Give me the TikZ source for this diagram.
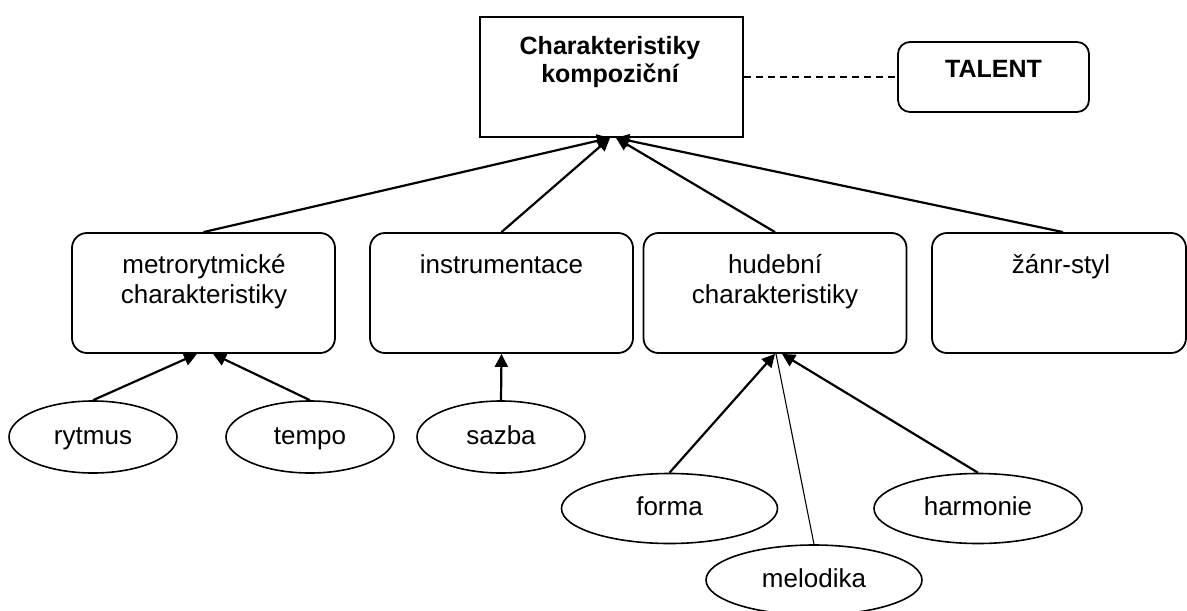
\documentclass[tikz,border=0pt]{standalone}
\usepackage{fontspec}
\setmainfont{Liberation Sans}
\usetikzlibrary{arrows.meta,shapes.geometric}
\begin{document}
\begin{tikzpicture}[x=0.5pt,y=-0.5pt,
  frame/.style={draw, line width=0.9pt, inner sep=0pt},
  headbox/.style={frame, minimum width=131.5pt, minimum height=60pt},
  catbox/.style={frame, rounded corners=7.5pt, minimum width=131.5pt, minimum height=60pt},
  talentbox/.style={frame, rounded corners=6pt, minimum width=95.5pt, minimum height=35pt},
  leaf/.style={draw, ellipse, line width=0.8pt, inner sep=0pt,
    minimum width=84pt, minimum height=36pt,
    font=\fontsize{13pt}{15pt}\selectfont, text height=10pt, text depth=3pt},
  wideleaf/.style={leaf, minimum width=108pt, minimum height=35pt},
  % multi-line labels are anchored at the baseline of their last line
  lbl/.style={anchor=base, align=center, inner sep=0pt, font=\fontsize{13pt}{15pt}\selectfont},
  blbl/.style={anchor=base, align=center, inner sep=0pt, font=\fontsize{12.5pt}{14pt}\selectfont\bfseries},
  link/.style={line width=1.1pt, -{Triangle[length=6.5pt,width=6.5pt]}},
  thinlink/.style={line width=0.55pt},
  assoc/.style={line width=0.7pt, dash pattern=on 3.5pt off 2.5pt},
]
\useasboundingbox (0,0) rectangle (1187,610);
\clip (0,0) rectangle (1187,610);

% top level
\node[headbox] (top) at (611.5,77) {};
\node[blbl] (topt) at (610,83) {Charakteristiky\\kompoziční};
\node[talentbox] (talent) at (993.5,77) {};
\node[blbl] (talentt) at (993.5,77) {TALENT};

% categories
\node[catbox] (metro) at (203.5,293) {};
\node[lbl] (metrot) at (204,303) {metrorytmické\\charakteristiky};
\node[catbox] (instr) at (501.5,293) {};
\node[lbl] (instrt) at (501.5,273) {instrumentace};
\node[catbox] (hud) at (775,293) {};
\node[lbl] (hudt) at (775,303) {hudební\\charakteristiky};
\node[catbox, minimum width=127pt] (zanr) at (1059,293) {};
\node[lbl] (zanrt) at (1061,273) {žánr-styl};

% leaves
\node[leaf] (rytmus) at (93,437) {rytmus};
\node[leaf] (tempo) at (310,437) {tempo};
\node[leaf] (sazba) at (501,437) {sazba};
\node[wideleaf] (forma) at (669.5,508.5) {forma};
\node[wideleaf] (melodika) at (814,580) {melodika};
\node[wideleaf, minimum width=104pt] (harmonie) at (978,508.5) {harmonie};

% connectors
\draw[assoc] (top.east) -- (talent.west);
\draw[link] (metro.north) -- ([xshift=-0.75pt]top.south);
\draw[link] (instr.north) -- ([xshift=-0.75pt]top.south);
\draw[link] (hud.north) -- ([xshift=2.25pt]top.south);
\draw[link] ([xshift=2pt]zanr.north) -- ([xshift=2.25pt]top.south);

\draw[link] (rytmus.north) -- ([xshift=-3.25pt]metro.south);
\draw[link] (tempo.north) -- ([xshift=4.75pt]metro.south);
\draw[link] (sazba.north) -- (instr.south);
\draw[link] (forma.north) -- (hud.south);
\draw[link] (harmonie.north) -- ([xshift=3.5pt]hud.south);
\draw[thinlink] (melodika.north) -- ([xshift=0.5pt]hud.south);
\end{tikzpicture}
\end{document}
